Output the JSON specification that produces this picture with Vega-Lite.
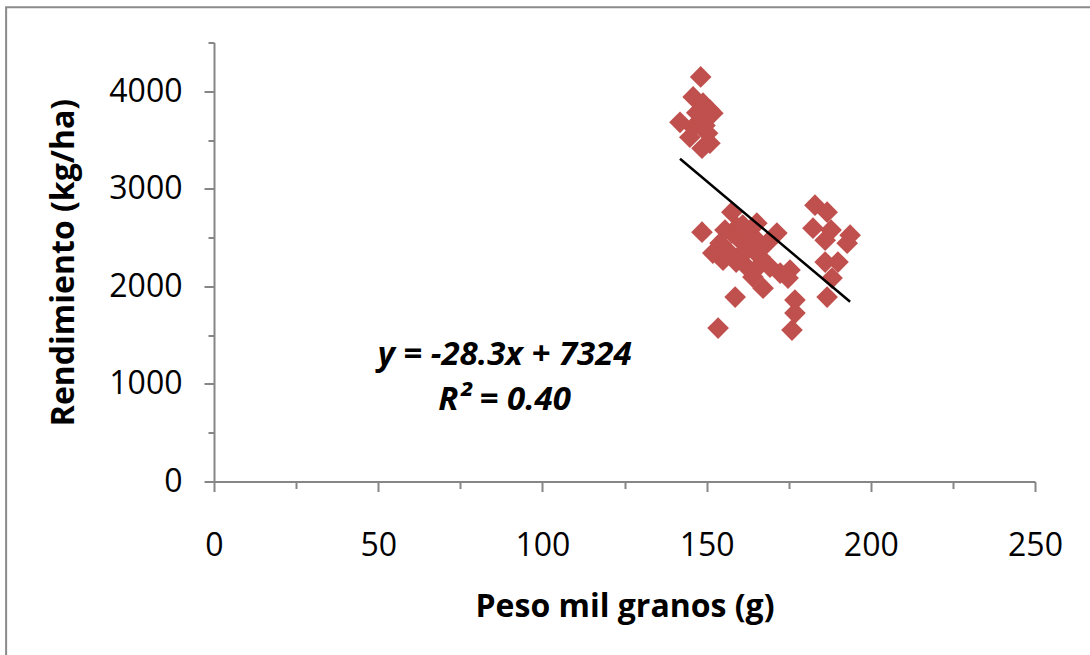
{
  "$schema": "https://vega.github.io/schema/vega-lite/v6.json",
  "width": 821,
  "height": 439,
  "autosize": {"type": "none"},
  "padding": {"left": 214, "top": 42.5, "right": 55, "bottom": 173.5},
  "background": "white",
  "config": {"view": {"stroke": null}, "font": "Open Sans"},
  "datasets": {
    "pts": [
      {"peso": 148.2, "rendimiento": 4147},
      {"peso": 145.9, "rendimiento": 3942},
      {"peso": 148.9, "rendimiento": 3878},
      {"peso": 151.0, "rendimiento": 3806},
      {"peso": 151.9, "rendimiento": 3775},
      {"peso": 141.9, "rendimiento": 3682},
      {"peso": 145.9, "rendimiento": 3631},
      {"peso": 148.0, "rendimiento": 3703},
      {"peso": 144.9, "rendimiento": 3529},
      {"peso": 150.3, "rendimiento": 3570},
      {"peso": 151.0, "rendimiento": 3467},
      {"peso": 148.6, "rendimiento": 3416},
      {"peso": 149.5, "rendimiento": 3650},
      {"peso": 147.0, "rendimiento": 3780},
      {"peso": 157.7, "rendimiento": 2761},
      {"peso": 148.6, "rendimiento": 2556},
      {"peso": 165.3, "rendimiento": 2648},
      {"peso": 171.4, "rendimiento": 2546},
      {"peso": 154.1, "rendimiento": 2443},
      {"peso": 157.7, "rendimiento": 2546},
      {"peso": 160.2, "rendimiento": 2474},
      {"peso": 155.0, "rendimiento": 2269},
      {"peso": 162.3, "rendimiento": 2372},
      {"peso": 166.3, "rendimiento": 2300},
      {"peso": 168.4, "rendimiento": 2443},
      {"peso": 169.3, "rendimiento": 2198},
      {"peso": 172.4, "rendimiento": 2136},
      {"peso": 167.2, "rendimiento": 1982},
      {"peso": 158.7, "rendimiento": 1890},
      {"peso": 153.5, "rendimiento": 1573},
      {"peso": 163.2, "rendimiento": 2505},
      {"peso": 159.3, "rendimiento": 2607},
      {"peso": 151.9, "rendimiento": 2341},
      {"peso": 164.7, "rendimiento": 2167},
      {"peso": 156.2, "rendimiento": 2372},
      {"peso": 161.7, "rendimiento": 2218},
      {"peso": 160.2, "rendimiento": 2321},
      {"peso": 165.3, "rendimiento": 2474},
      {"peso": 159.0, "rendimiento": 2249},
      {"peso": 164.1, "rendimiento": 2095},
      {"peso": 161.0, "rendimiento": 2628},
      {"peso": 155.6, "rendimiento": 2577},
      {"peso": 183.0, "rendimiento": 2833},
      {"peso": 186.7, "rendimiento": 2761},
      {"peso": 182.4, "rendimiento": 2597},
      {"peso": 187.9, "rendimiento": 2577},
      {"peso": 186.1, "rendimiento": 2474},
      {"peso": 193.7, "rendimiento": 2525},
      {"peso": 192.8, "rendimiento": 2443},
      {"peso": 186.1, "rendimiento": 2249},
      {"peso": 190.0, "rendimiento": 2249},
      {"peso": 188.2, "rendimiento": 2085},
      {"peso": 186.7, "rendimiento": 1890},
      {"peso": 176.9, "rendimiento": 1860},
      {"peso": 176.9, "rendimiento": 1726},
      {"peso": 176.0, "rendimiento": 1552},
      {"peso": 175.4, "rendimiento": 2167},
      {"peso": 174.8, "rendimiento": 2085}
    ],
    "trend": [
      {"peso": 141.9, "rendimiento": 3308},
      {"peso": 193.7, "rendimiento": 1842}
    ],
    "notes": [
      {"peso": 88.5, "rendimiento": 1193, "label": "y = -28.3x + 7324"},
      {"peso": 88.5, "rendimiento": 732, "label": "R² = 0.40"}
    ]
  },
  "layer": [
    {
      "data": {"values": [{}]},
      "mark": {"type": "rect", "fill": null, "stroke": "#8a8a8a", "strokeWidth": 2, "clip": false},
      "encoding": {
        "x": {"datum": -63.3, "type": "quantitative", "title": "Peso mil granos (g)"},
        "x2": {"datum": 400},
        "y": {"datum": 4861, "type": "quantitative", "title": "Rendimiento (kg/ha)"},
        "y2": {"datum": -2000}
      }
    },
    {
      "data": {"name": "pts"},
      "mark": {"type": "point", "shape": "diamond", "filled": true, "color": "#C0504D", "size": 470, "opacity": 1, "strokeWidth": 0},
      "encoding": {
        "x": {
          "field": "peso", "type": "quantitative",
          "scale": {"domain": [0, 250], "nice": false, "zero": false},
          "title": "Peso mil granos (g)",
          "axis": {
            "values": [0, 25, 50, 75, 100, 125, 150, 175, 200, 225, 250],
            "format": "d",
            "labelExpr": "datum.value % 50 === 0 ? datum.label : ''",
            "grid": false,
            "domainColor": "#868686", "domainWidth": 2,
            "tickColor": "#868686", "tickWidth": 2,
            "tickSize": {"condition": {"test": "datum.value % 50 === 0", "value": 10}, "value": 7},
            "labelFont": "Open Sans", "labelFontSize": 32, "labelColor": "#000000",
            "labelPadding": 39, "labelFlush": false, "labelOverlap": false,
            "titleFont": "Open Sans", "titleFontSize": 32, "titleFontWeight": "bold", "titleColor": "#000000",
            "titlePadding": 30
          }
        },
        "y": {
          "field": "rendimiento", "type": "quantitative",
          "scale": {"domain": [0, 4500], "nice": false},
          "title": "Rendimiento (kg/ha)",
          "axis": {
            "values": [0, 500, 1000, 1500, 2000, 2500, 3000, 3500, 4000, 4500],
            "format": "d",
            "labelExpr": "datum.value % 1000 === 0 ? datum.label : ''",
            "grid": false,
            "domainColor": "#868686", "domainWidth": 2,
            "tickColor": "#868686", "tickWidth": 2,
            "tickSize": {"condition": {"test": "datum.value % 1000 === 0", "value": 10}, "value": 6},
            "labelFont": "Open Sans", "labelFontSize": 32, "labelColor": "#000000",
            "labelPadding": 22, "labelOverlap": false, "labelFlush": false,
            "titleFont": "Open Sans", "titleFontSize": 32, "titleFontWeight": "bold", "titleColor": "#000000",
            "titlePadding": 28
          }
        }
      }
    },
    {
      "data": {"name": "trend"},
      "mark": {"type": "line", "color": "#000000", "strokeWidth": 2.5},
      "encoding": {
        "x": {"field": "peso", "type": "quantitative", "title": "Peso mil granos (g)"},
        "y": {"field": "rendimiento", "type": "quantitative", "title": "Rendimiento (kg/ha)"}
      }
    },
    {
      "data": {"name": "notes"},
      "mark": {"type": "text", "font": "Open Sans", "fontSize": 33, "fontWeight": "bold", "fontStyle": "italic", "color": "#000000", "align": "center", "baseline": "alphabetic"},
      "encoding": {
        "x": {"field": "peso", "type": "quantitative", "title": "Peso mil granos (g)"},
        "y": {"field": "rendimiento", "type": "quantitative", "title": "Rendimiento (kg/ha)"},
        "text": {"field": "label"}
      }
    }
  ]
}
